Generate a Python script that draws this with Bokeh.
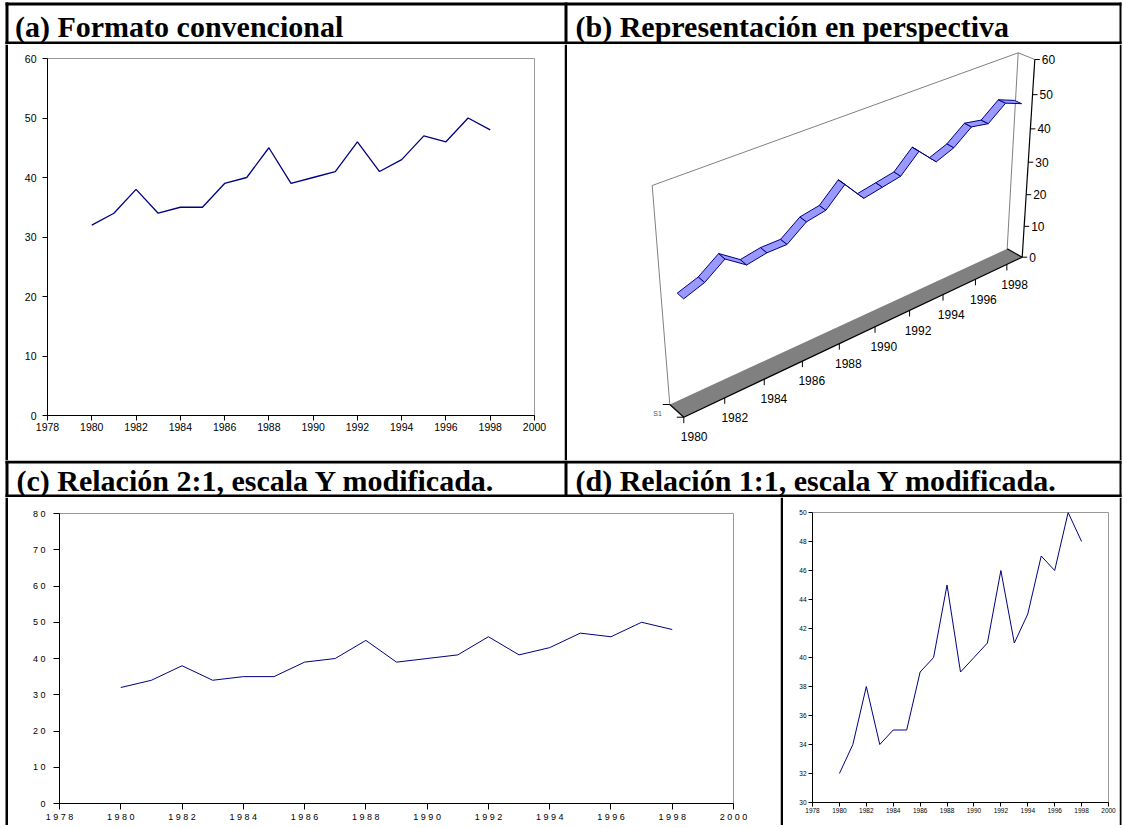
import numpy as np
from bokeh.plotting import figure
from bokeh.layouts import column, row
from bokeh.models import Range1d, FixedTicker
from bokeh.core.properties import value
from bokeh.embed import file_html
from bokeh.resources import INLINE

# ---------------- data ----------------
years = list(range(1980, 1999))
values = [32, 34, 38, 34, 35, 35, 39, 40, 45, 39, 40, 41, 46, 41, 43, 47, 46, 50, 48]
x_ticks = list(range(1978, 2001, 2))
y_ticks_a = [0, 10, 20, 30, 40, 50, 60]
y_ticks_b = [0, 10, 20, 30, 40, 50, 60]
y_ticks_c = [0, 10, 20, 30, 40, 50, 60, 70, 80]
y_ticks_d = [30, 32, 34, 36, 38, 40, 42, 44, 46, 48, 50]
b_year_labels = years[::2]
series_name = "S1"
titles = ["(a) Formato convencional",
          "(b) Representación en perspectiva",
          "(c) Relación 2:1, escala Y modificada.",
          "(d) Relación 1:1, escala Y modificada."]

SANS = value("Liberation Sans")
SERIF = value("Liberation Serif")
NAVY = "#000080"
W = 1123


def blank(w, h):
    p = figure(width=w, height=h, x_range=Range1d(0, w), y_range=Range1d(h, 0),
               x_axis_type=None, y_axis_type=None, min_border=0,
               toolbar_location=None, output_backend="svg",
               outline_line_color=None, background_fill_color="white",
               border_fill_color="white", frame_align=False)
    p.grid.visible = False
    return p


def bar(w, h, x0, x1):
    p = blank(w, h)
    p.quad(left=[x0], right=[x1], top=[0], bottom=[h], fill_color="black",
           line_color=None)
    return p


def title_row(h, lines, vbars, texts, mid):
    p = blank(W, h)
    p.quad(left=[5] * len(lines), right=[1121] * len(lines),
           top=[a for a, b in lines], bottom=[b for a, b in lines],
           fill_color="black", line_color=None)
    p.quad(left=[a for a, b in vbars], right=[b for a, b in vbars],
           top=[lines[0][0]] * len(vbars), bottom=[lines[-1][1]] * len(vbars),
           fill_color="black", line_color=None)
    p.text(x=[t[0] for t in texts], y=[mid] * len(texts), text=[t[1] for t in texts],
           text_font=SERIF, text_font_style="bold", text_font_size="30px",
           text_baseline="middle", text_align="left", text_color="black")
    return p


def chart(width, height, left, top, fw, fh, yr, yticks, fsize, tick_out,
          sx, sy, spaced=False, lw=1.2):
    p = figure(width=width, height=height, x_range=Range1d(1978, 2000),
               y_range=Range1d(*yr), output_backend="svg", toolbar_location=None,
               min_border_left=left, min_border_right=width - left - fw,
               min_border_top=top, min_border_bottom=height - top - fh,
               background_fill_color="white", border_fill_color="white",
               frame_align=False)
    p.grid.visible = False
    p.outline_line_color = "#999999"
    p.outline_line_width = 1
    p.xaxis.ticker = FixedTicker(ticks=x_ticks)
    p.yaxis.ticker = FixedTicker(ticks=yticks)
    for ax in (p.xaxis[0], p.yaxis[0]):
        ax.axis_line_color = "black"
        ax.axis_line_width = 1
        ax.major_tick_line_color = "black"
        ax.minor_tick_line_color = None
        ax.major_tick_in = 0
        ax.major_tick_out = tick_out
        ax.major_label_text_font = "Liberation Sans"
        ax.major_label_text_font_size = fsize
        ax.major_label_text_color = "black"
    p.xaxis.major_label_standoff = sx
    p.yaxis.major_label_standoff = sy
    if spaced:
        p.xaxis.major_label_overrides = {t: " ".join(str(t)) for t in x_ticks}
        p.yaxis.major_label_overrides = {t: " ".join(str(t)) for t in yticks}
    p.line(years, values, line_color=NAVY, line_width=lw)
    return p


# ---------------- panel (b): perspective ----------------
def homog(src, dst):
    A, b = [], []
    for (x, y), (X, Y) in zip(src, dst):
        A.append([x, y, 1, 0, 0, 0, -X * x, -X * y]); b.append(X)
        A.append([0, 0, 0, x, y, 1, -Y * x, -Y * y]); b.append(Y)
    h = np.linalg.solve(np.array(A, float), np.array(b, float))
    return np.append(h, 1.0).reshape(3, 3)


def panel_b(w, h):
    p = blank(w, h)
    n = len(years)
    vmax = y_ticks_b[-1]
    uv = [(0, 0), (n, 0), (n, vmax), (0, vmax)]
    back = [(102.3, 360.0), (439.7, 204.3), (450.7, 8.3), (84.7, 141.0)]
    front = [(116.3, 372.7), (454.7, 212.7), (467.3, 15.0), (98.7, 153.7)]
    Hb, Hf = homog(uv, back), homog(uv, front)

    def P(u, v, d):
        out = []
        for H in (Hf, Hb):
            q = H @ np.array([u, v, 1.0])
            out.append(q[:2] / q[2])
        r = out[0] * (1 - d) + out[1] * d
        return float(r[0]), float(r[1])

    # back wall
    c = [P(0, 0, 1), P(0, vmax, 1), P(n, vmax, 1), P(n, 0, 1)]
    p.line([q[0] for q in c], [q[1] for q in c], line_color="#808080", line_width=1)
    a1, a2 = P(n, vmax, 1), P(n, vmax, 0)
    p.line([a1[0], a2[0]], [a1[1], a2[1]], line_color="#808080", line_width=1)
    # floor
    fl = [P(0, 0, 1), P(n, 0, 1), P(n, 0, 0), P(0, 0, 0)]
    p.patch([q[0] for q in fl], [q[1] for q in fl], fill_color="#808080",
            line_color=None)
    for s, e in [((0, 0, 0), (n, 0, 0)), ((0, 0, 1), (0, 0, 0)), ((n, 0, 1), (n, 0, 0)),
                 ((n, 0, 0), (n, vmax, 0))]:
        s1, e1 = P(*s), P(*e)
        p.line([s1[0], e1[0]], [s1[1], e1[1]], line_color="black", line_width=1.2)
    # category ticks + labels
    txs, tys = [], []
    for k in range(0, n, 2):
        q = P(k, 0, 0)
        txs.append([q[0], q[0]]); tys.append([q[1], q[1] + 6])
    p.multi_line(txs, tys, line_color="black", line_width=1)
    lx, ly = [], []
    for yr in b_year_labels:
        q = P(years.index(yr) + 0.5, 0, 0)
        lx.append(q[0]); ly.append(q[1] + 24)
    p.text(x=lx, y=ly, text=[str(y) for y in b_year_labels], text_font=SANS,
           text_font_size="12px", text_align="center", text_baseline="middle",
           text_color="black")
    # value axis ticks + labels
    vx, vy, vlx, vly = [], [], [], []
    for t in y_ticks_b:
        q = P(n, t, 0)
        vx.append([q[0], q[0] + 5]); vy.append([q[1], q[1]])
        vlx.append(q[0] + 7); vly.append(q[1])
    p.multi_line(vx, vy, line_color="black", line_width=1)
    p.text(x=vlx, y=vly, text=[str(t) for t in y_ticks_b], text_font=SANS,
           text_font_size="12px", text_align="left", text_baseline="middle",
           text_color="black")
    # depth axis ticks + series label
    dx, dy = [], []
    for d in (0, 1):
        q = P(0, 0, d)
        dx.append([q[0] - 7, q[0]]); dy.append([q[1], q[1]])
    p.multi_line(dx, dy, line_color="black", line_width=1)
    m = P(0, 0, 0.5)
    p.text(x=[m[0] - 15], y=[m[1] + 3], text=[series_name], text_font=SANS,
           text_font_size="7px", text_align="right", text_baseline="middle",
           text_color="#555555")
    # ribbon
    d0, d1 = 0.15, 0.6
    xs, ys = [], []
    for i in range(n - 1):
        u0, u1 = i + 0.5, i + 1.5
        q = [P(u0, values[i], d0), P(u1, values[i + 1], d0),
             P(u1, values[i + 1], d1), P(u0, values[i], d1)]
        xs.append([a[0] for a in q]); ys.append([a[1] for a in q])
    p.patches(xs, ys, fill_color="#9999ff", line_color=NAVY, line_width=1)
    return p


# ---------------- layout ----------------
t1 = title_row(44, [(2, 5), (41, 44)], [(5, 8), (564, 567), (1119, 1121)],
               [(14.5, titles[0]), (575, titles[1])], 26)
t2 = title_row(37, [(0, 3), (34, 37)], [(5, 8), (564, 567), (1119, 1121)],
               [(16, titles[2]), (575, titles[3])], 20)

pa = chart(556, 416, 39, 14, 487, 357, (0, 60), y_ticks_a, "10.5px", 5, 2, 6, lw=1.3)
pb = panel_b(552, 416)
pc = chart(772, 328, 51, 16, 674, 290, (0, 80), y_ticks_c, "9px", 6, 2, 8,
           spaced=True, lw=1.0)
pd = chart(336, 328, 29, 15, 296, 290, (30, 50), y_ticks_d, "6.5px", 4, 1, 2, lw=1.0)

r1 = row(bar(8, 416, 5, 8), pa, bar(3, 416, 0, 3), pb, bar(4, 416, 0, 2))
r2 = row(bar(8, 328, 5, 8), pc, bar(3, 328, 0, 3), pd, bar(4, 328, 0, 2))
bottom = bar(W, 3, 5, 1121)

layout = column(t1, r1, t2, r2, bottom)

open("out.html", "w").write(file_html(layout, INLINE))
